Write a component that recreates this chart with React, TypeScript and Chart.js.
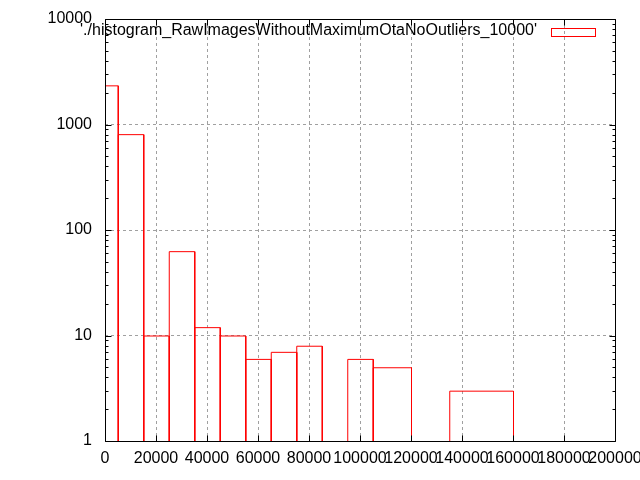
import React, { useEffect, useRef } from "react";
import { Chart, registerables } from "chart.js";

Chart.register(...registerables);

// Histogram bins (left edge, right edge) and counts
const binStart = [0, 5000, 15000, 25000, 35000, 45000, 55000, 65000, 75000, 95000, 105000, 135000];
const binEnd = [5000, 15000, 25000, 35000, 45000, 55000, 65000, 75000, 85000, 105000, 120000, 160000];
const counts = [2350, 810, 10, 63, 12, 10, 6, 7, 8, 6, 5, 3];

const seriesLabel = "'./histogram_RawImagesWithoutMaximumOtaNoOutliers_10000'";
const xMin = 0;
const xMax = 200000;
const xStep = 20000;
const yTicks = [1, 10, 100, 1000, 10000];

const FONT = "Liberation Sans, Arial, sans-serif";

const shiftPlugin = {
  id: "halfPixel",
  beforeDatasetsDraw(chart: any) {
    chart.ctx.save();
    chart.ctx.translate(0.5, 0.5);
  },
};

const framePlugin = {
  id: "gnuFrame",
  afterDatasetsDraw(chart: any) {
    const { ctx, chartArea } = chart;
    ctx.restore();
    const { left, right, top, bottom } = chartArea;
    const xs = chart.scales.x;
    const ys = chart.scales.y;
    ctx.save();
    ctx.strokeStyle = "#000";
    ctx.lineWidth = 1;
    ctx.setLineDash([]);
    ctx.beginPath();
    const L = Math.round(left) + 0.5;
    const R = Math.round(right) + 0.5;
    const T = Math.round(top) + 0.5;
    const B = Math.round(bottom) + 0.5;
    ctx.rect(L, T, R - L, B - T);
    // x major ticks
    for (let v = xMin; v <= xMax; v += xStep) {
      const px = Math.round(xs.getPixelForValue(v)) + 0.5;
      ctx.moveTo(px, B);
      ctx.lineTo(px, B - 6);
      ctx.moveTo(px, T);
      ctx.lineTo(px, T + 6);
    }
    // y ticks (major + minor)
    for (let d = 0; d < yTicks.length; d++) {
      const base = yTicks[d];
      const py = Math.round(ys.getPixelForValue(base)) + 0.5;
      ctx.moveTo(L, py);
      ctx.lineTo(L + 6, py);
      ctx.moveTo(R, py);
      ctx.lineTo(R - 6, py);
      if (d < yTicks.length - 1) {
        for (let m = 2; m <= 9; m++) {
          const my = Math.round(ys.getPixelForValue(base * m)) + 0.5;
          ctx.moveTo(L, my);
          ctx.lineTo(L + 3, my);
          ctx.moveTo(R, my);
          ctx.lineTo(R - 3, my);
        }
      }
    }
    ctx.stroke();

    // key
    ctx.font = "16px " + FONT;
    ctx.fillStyle = "#000";
    ctx.textAlign = "right";
    ctx.textBaseline = "middle";
    const label = chart.data.datasets[0].label;
    ctx.fillText(label, 537, 31);
    ctx.strokeStyle = "#ff0000";
    ctx.strokeRect(551.5, 28.5, 44, 8);
    ctx.restore();
  },
};

export default function App() {
  const ref = useRef<HTMLCanvasElement | null>(null);

  useEffect(() => {
    if (!ref.current) return;
    const points: any[] = [];
    for (let i = 0; i < counts.length; i++) {
      points.push({ x: binStart[i], y: 1 });
      points.push({ x: binStart[i], y: counts[i] });
      points.push({ x: binEnd[i], y: counts[i] });
      points.push({ x: binEnd[i], y: 1 });
      points.push({ x: binEnd[i], y: null });
    }
    const chart = new Chart(ref.current, {
      type: "line",
      data: {
        datasets: [
          {
            label: seriesLabel,
            data: points,
            borderColor: "#ff0000",
            backgroundColor: "#ff0000",
            borderWidth: 1,
            pointRadius: 0,
            fill: false,
            tension: 0,
            spanGaps: false,
          },
        ],
      },
      options: {
        animation: false,
        responsive: false,
        devicePixelRatio: 1,
        layout: { padding: { top: 19, right: 25, bottom: 0, left: 0 } },
        plugins: {
          legend: { display: false },
          tooltip: { enabled: false },
        },
        scales: {
          x: {
            type: "linear",
            min: xMin,
            max: xMax,
            afterFit: (s: any) => {
              s.height = 39;
              s.paddingLeft = 0;
              s.paddingRight = 0;
            },
            ticks: {
              stepSize: xStep,
              autoSkip: false,
              maxRotation: 0,
              minRotation: 0,
              padding: 8,
              color: "#000",
              font: { family: FONT, size: 16 },
              callback: (v: any) => String(v),
            },
            grid: { color: "#a0a0a0", drawTicks: false, lineWidth: 1 },
            border: { display: false, dash: [3, 3] },
          },
          y: {
            type: "logarithmic",
            min: 1,
            max: 10000,
            afterBuildTicks: (s: any) => {
              s.ticks = yTicks.map((v) => ({ value: v, major: true }));
            },
            afterFit: (s: any) => {
              s.width = 105;
              s.paddingTop = 0;
              s.paddingBottom = 0;
            },
            ticks: {
              padding: 13,
              color: "#000",
              font: { family: FONT, size: 16 },
              callback: (v: any) => String(v),
            },
            grid: { color: "#a0a0a0", drawTicks: false, lineWidth: 1 },
            border: { display: false, dash: [3, 3] },
          },
        },
      },
      plugins: [shiftPlugin, framePlugin],
    });
    return () => chart.destroy();
  }, []);

  return (
    <div style={{ position: "absolute", left: 0, top: 0, width: 640, height: 480, background: "#fff" }}>
      <canvas ref={ref} width={640} height={480} />
    </div>
  );
}
